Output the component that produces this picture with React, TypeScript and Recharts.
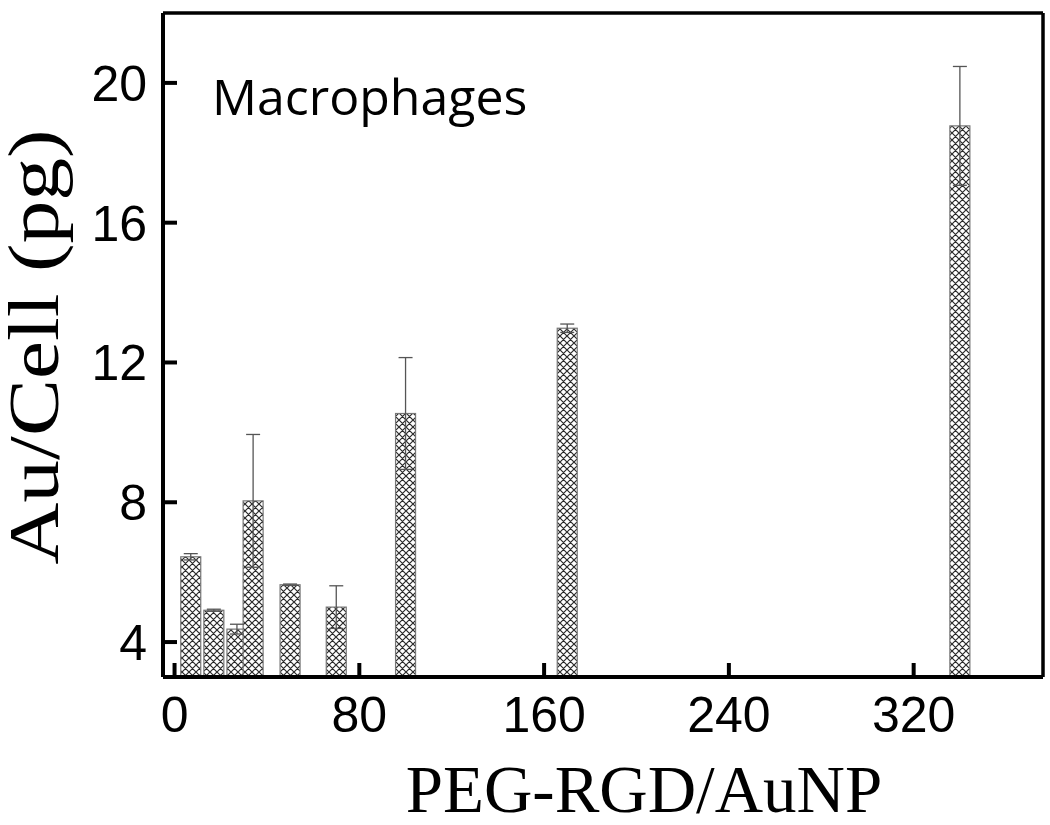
import React from "react";
import { BarChart, Bar, XAxis, YAxis, ErrorBar, ReferenceLine } from "recharts";

// PEG-RGD per AuNP (x) vs gold uptake per cell (pg)
const ratios = [7, 17, 27, 34, 50, 70, 100, 170, 340];
const auPerCell = [6.44, 4.91, 4.37, 8.04, 5.64, 5.0, 10.54, 12.98, 18.77];
const auError = [0.09, 0.03, 0.14, 1.9, 0.02, 0.61, 1.6, 0.12, 1.7];

const xTicks = [0, 80, 160, 240, 320];
const yTicks = [4, 8, 12, 16, 20];

const data = ratios.map((r, i) => ({ x: r, y: auPerCell[i], err: auError[i] }));

const sans = "'Liberation Sans', Arial, sans-serif";
const serif = "'Liberation Serif', 'Times New Roman', serif";
const BAR_W = 20;

const XTick = ({ x, y, payload }: any) => (
  <g>
    <line x1={x} x2={x} y1={y} y2={y - 14} stroke="#000" strokeWidth={4} />
    <text x={x} y={y + 55} textAnchor="middle" fontSize={50} fontFamily={sans} fill="#000">
      {payload.value}
    </text>
  </g>
);

const YTick = ({ x, y, payload }: any) => (
  <g>
    <line x1={x} x2={x + 14} y1={y} y2={y} stroke="#000" strokeWidth={4} />
    <text x={x - 16} y={y + 18} textAnchor="end" fontSize={50} fontFamily={sans} fill="#000">
      {payload.value}
    </text>
  </g>
);

// keep the bar centred on its x value but at a fixed pixel width
const HatchBar = ({ x, y, width, height }: any) => {
  const cx = x + width / 2;
  return (
    <rect x={cx - BAR_W / 2} y={y} width={BAR_W} height={height}
      fill="url(#hatch)" stroke="#777" strokeWidth={1.2} />
  );
};

export default function App() {
  return (
    <div style={{ position: "absolute", left: 0, top: 0, background: "#fff" }}>
      <BarChart width={1050} height={825} data={data}
        margin={{ top: 13, right: 7, left: 0, bottom: 0 }}>
        <defs>
          <pattern id="hatch" width={7} height={7} patternUnits="userSpaceOnUse">
            <rect width={7} height={7} fill="#fff" />
            <path d="M0,0 L7,7 M7,0 L0,7 M-1,6 L1,8 M6,-1 L8,1" stroke="#2a2a2a" strokeWidth={1.2} />
          </pattern>
        </defs>
        <XAxis dataKey="x" type="number" domain={[-5, 376]} ticks={xTicks} allowDataOverflow
          height={148} tickSize={0} tickMargin={0} tick={<XTick />} interval={0}
          axisLine={{ stroke: "#000", strokeWidth: 4 }} />
        <YAxis type="number" domain={[3, 22]} ticks={yTicks} allowDataOverflow
          width={163} tickSize={0} tickMargin={0} tick={<YTick />} interval={0}
          axisLine={{ stroke: "#000", strokeWidth: 4 }} />
        <ReferenceLine y={22} stroke="#000" strokeWidth={3.5} />
        <ReferenceLine x={376} stroke="#000" strokeWidth={3.5} />
        <Bar dataKey="y" shape={<HatchBar />} isAnimationActive={false}>
          <ErrorBar dataKey="err" direction="y" width={7} stroke="#555" strokeWidth={1.3} />
        </Bar>
        <text x={212} y={115} fontSize={50} fontFamily="'Open Sans', sans-serif" fill="#000">
          Macrophages
        </text>
        <text x={644} y={812} textAnchor="middle" fontSize={67} fontFamily={serif} fill="#000">
          PEG-RGD/AuNP
        </text>
        <text x={58} y={347} textAnchor="middle" fontSize={72} fontFamily={serif} fill="#000"
          textLength={435} lengthAdjust="spacingAndGlyphs"
          transform="rotate(-90 58 347)">
          Au/Cell (pg)
        </text>
      </BarChart>
    </div>
  );
}
